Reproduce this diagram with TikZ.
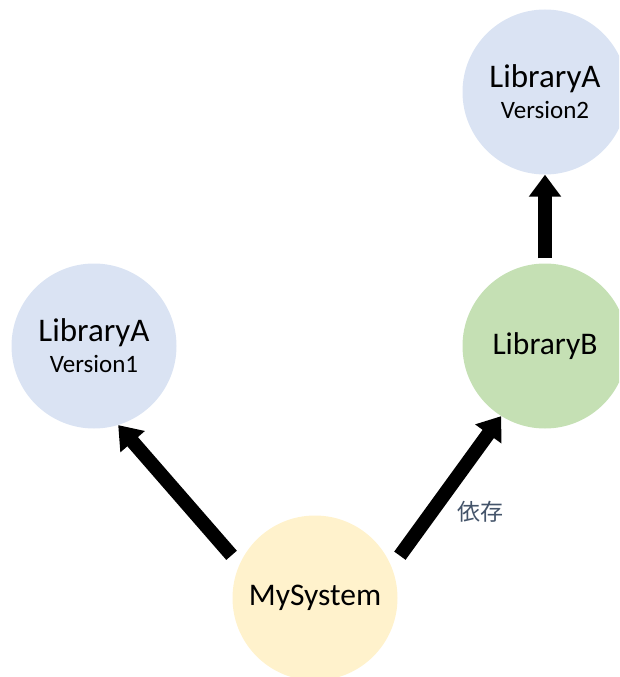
\documentclass[tikz,border=0pt]{standalone}
\usepackage{fontspec}
\setmainfont{Carlito}
\newfontfamily\cjk{Noto Sans CJK JP}
\usetikzlibrary{arrows.meta}
\definecolor{libblue}{HTML}{DAE3F3}
\definecolor{libgreen}{HTML}{C5E0B4}
\definecolor{sysyellow}{HTML}{FFF2CC}
\definecolor{labelgray}{HTML}{44546A}
\tikzset{
  ball/.style={circle, draw=none, minimum size=165pt, inner sep=0pt, align=center, text=black},
  twoline/.style={font=\fontsize{25}{31}\selectfont},
  bigtext/.style={font=\fontsize{31.5}{36}\selectfont},
  bigarrow/.style={line width=14pt, -{Triangle[width=31pt,length=22pt]}},
}
\newcommand{\bigline}[1]{{\fontsize{33}{36}\selectfont #1}}
\newcommand{\smallline}[1]{{\fontsize{25}{31}\selectfont #1}}
\begin{document}
\begin{tikzpicture}[x=1pt,y=-1pt]
\useasboundingbox (0,0) rectangle (619,677);
\clip (0,0) rectangle (619,677);
\node[ball, fill=libblue, twoline] (liba2) at (545,92) {\bigline{LibraryA}\\\smallline{Version2}};
\node[ball, fill=libblue, twoline] (liba1) at (94,346) {\bigline{LibraryA}\\\smallline{Version1}};
\node[ball, fill=libgreen, bigtext] (libb) at (545,346) {LibraryB};
\node[ball, fill=sysyellow, bigtext] (mysys) at (315,598) {MySystem};
\draw[bigarrow, shorten <=12pt] (mysys.156) -- (liba1.-73);
\draw[bigarrow, shorten <=14pt] (mysys.22) -- (libb.-122);
\draw[bigarrow, shorten <=5pt] (libb.north) -- (liba2.south);
\node[text=labelgray, font=\cjk\fontsize{23}{26}\selectfont] (dep) at (480,512) {依存};
\end{tikzpicture}
\end{document}
